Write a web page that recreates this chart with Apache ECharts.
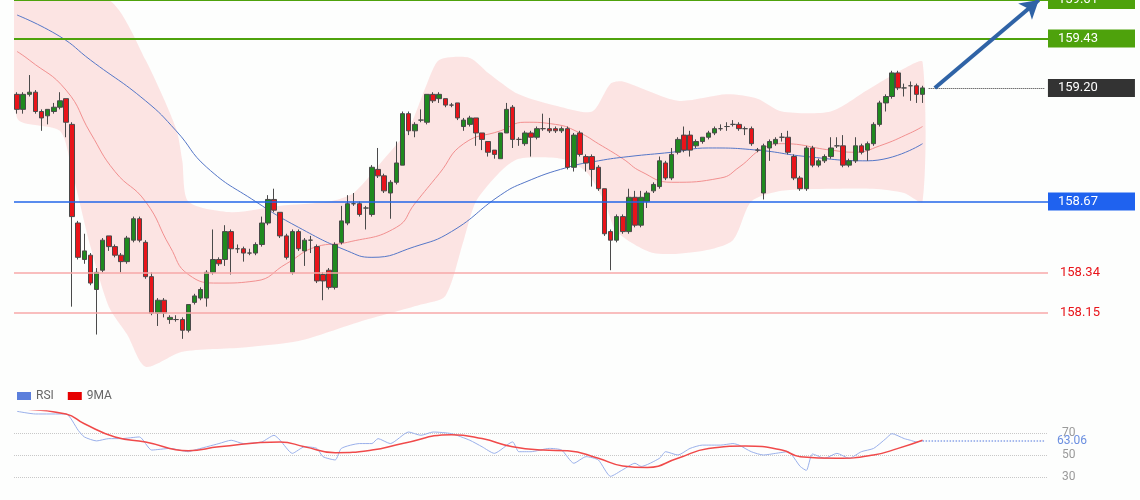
<!DOCTYPE html>
<html><head><meta charset="utf-8">
<script src="https://cdn.jsdelivr.net/npm/echarts@6/dist/echarts.min.js"></script>
<style>html,body{margin:0;padding:0;background:#fdfefd}#c{width:1140px;height:500px}</style>
</head><body><div id="c"></div>
<script>
// [open, close, low, high]
const candles = [
[159.17,159.10,159.08,159.18],[159.10,159.17,159.08,159.18],[159.17,159.18,159.16,159.26],[159.18,159.09,159.08,159.19],[159.09,159.06,159.00,159.10],
[159.07,159.10,159.03,159.10],[159.09,159.11,159.08,159.13],[159.11,159.14,159.10,159.18],[159.15,159.04,158.97,159.15],[159.03,158.60,158.18,159.04],
[158.57,158.41,158.40,158.58],[158.40,158.44,158.38,158.52],[158.42,158.29,158.28,158.43],[158.26,158.34,158.05,158.36],[158.35,158.49,158.34,158.50],
[158.51,158.46,158.44,158.51],[158.46,158.42,158.41,158.47],[158.42,158.39,158.34,158.43],[158.39,158.50,158.38,158.51],[158.49,158.59,158.48,158.60],
[158.59,158.49,158.48,158.60],[158.48,158.32,158.31,158.49],[158.32,158.15,158.14,158.34],[158.15,158.21,158.09,158.22],[158.21,158.15,158.13,158.22],
[158.12,158.13,158.10,158.14],[158.12,158.12,158.11,158.14],[158.12,158.07,158.03,158.13],[158.07,158.19,158.06,158.19],[158.20,158.23,158.19,158.24],
[158.22,158.26,158.21,158.27],[158.22,158.34,158.18,158.35],[158.34,158.40,158.33,158.54],[158.40,158.38,158.37,158.41],[158.40,158.53,158.37,158.56],
[158.53,158.45,158.33,158.54],[158.45,158.45,158.43,158.47],[158.45,158.43,158.39,158.46],[158.43,158.43,158.42,158.45],[158.43,158.47,158.42,158.48],
[158.47,158.57,158.46,158.60],[158.57,158.68,158.56,158.70],[158.68,158.63,158.62,158.73],[158.62,158.51,158.50,158.62],[158.51,158.41,158.40,158.52],
[158.34,158.53,158.33,158.54],[158.53,158.45,158.44,158.54],[158.44,158.49,158.37,158.50],[158.49,158.49,158.43,158.51],[158.46,158.30,158.29,158.47],
[158.33,158.30,158.21,158.34],[158.35,158.27,158.26,158.36],[158.27,158.47,158.26,158.48],[158.48,158.58,158.47,158.65],[158.57,158.66,158.56,158.70],
[158.66,158.66,158.65,158.71],[158.66,158.61,158.60,158.67],[158.64,158.64,158.54,158.65],[158.61,158.83,158.60,158.84],[158.82,158.79,158.78,158.92],
[158.79,158.72,158.71,158.80],[158.71,158.76,158.59,158.77],[158.76,158.85,158.75,158.95],[158.84,159.08,158.84,159.09],[159.08,159.00,158.98,159.09],
[159.00,159.03,158.97,159.04],[159.05,159.05,159.04,159.10],[159.04,159.17,159.03,159.17],[159.17,159.14,159.13,159.18],[159.15,159.17,159.13,159.18],
[159.15,159.12,159.11,159.15],[159.12,159.12,159.11,159.13],[159.13,159.06,159.05,159.13],[159.02,159.05,159.00,159.06],[159.03,159.06,159.02,159.07],
[159.06,158.99,158.93,159.06],[158.99,158.96,158.91,158.99],[158.95,158.90,158.88,158.95],[158.91,158.89,158.87,158.91],[158.87,158.99,158.87,158.99],
[158.99,159.10,158.99,159.13],[159.11,158.96,158.92,159.12],[158.96,158.96,158.93,158.97],[158.94,158.99,158.93,159.00],[158.99,158.97,158.88,159.00],
[158.97,159.01,158.96,159.02],[159.01,159.01,159.00,159.08],[159.01,159.00,158.99,159.06],[159.01,159.00,158.99,159.02],[159.00,159.01,158.99,159.02],
[159.01,158.83,158.82,159.02],[158.83,158.98,158.81,158.99],[158.99,158.89,158.88,159.00],[158.88,158.85,158.81,158.89],[158.88,158.82,158.74,158.89],
[158.83,158.73,158.72,158.84],[158.73,158.52,158.51,158.73],[158.53,158.49,158.35,158.54],[158.49,158.60,158.48,158.61],[158.60,158.53,158.52,158.61],
[158.53,158.69,158.52,158.73],[158.69,158.56,158.55,158.72],[158.56,158.69,158.55,158.72],[158.67,158.71,158.64,158.72],[158.72,158.75,158.71,158.76],
[158.74,158.86,158.73,158.88],[158.85,158.78,158.77,158.86],[158.78,158.89,158.77,158.92],[158.90,158.96,158.89,158.97],[158.98,158.91,158.90,159.02],
[158.98,158.91,158.88,159.00],[158.93,158.95,158.92,158.96],[158.95,158.97,158.94,158.97],[158.97,158.99,158.96,159.00],[158.99,159.01,158.98,159.02],
[159.01,159.01,159.00,159.03],[159.02,159.02,159.00,159.04],[159.03,159.03,159.02,159.05],[159.03,159.01,159.00,159.04],[159.01,159.01,158.98,159.02],
[159.01,158.94,158.93,159.02],[158.91,158.91,158.90,158.92],[158.71,158.93,158.68,158.94],[158.92,158.95,158.86,158.96],[158.94,158.96,158.93,158.97],
[158.97,158.97,158.95,158.99],[158.97,158.90,158.89,159.00],[158.88,158.78,158.77,158.89],[158.78,158.73,158.72,158.79],[158.73,158.92,158.72,158.93],
[158.92,158.84,158.83,158.93],[158.84,158.86,158.83,158.87],[158.86,158.88,158.85,158.89],[158.88,158.92,158.87,158.97],[158.93,158.93,158.92,158.97],
[158.93,158.84,158.83,158.98],[158.84,158.86,158.83,158.87],[158.86,158.93,158.85,158.97],[158.93,158.90,158.89,158.94],[158.91,158.94,158.86,158.95],
[158.94,159.03,158.93,159.04],[159.03,159.13,159.02,159.14],[159.13,159.16,159.09,159.17],[159.16,159.27,159.15,159.28],[159.27,159.20,159.19,159.28],
[159.20,159.20,159.16,159.22],[159.21,159.21,159.14,159.23],[159.21,159.17,159.13,159.22],[159.17,159.20,159.13,159.21]
];
const slots = 169;
const categories = Array.from({length: slots}, (_, i) => String(i + 1));
const ma20 = [[0,159.37],[2,159.33],[8,159.19],[12,158.99],[16,158.81],[21,158.67],[25,158.46],[28,158.33],[33,158.29],[39,158.30],[44,158.38],[49,158.46],[54,158.48],[62,158.55],[65,158.66],[69,158.80],[73,158.94],[79,159.00],[83,159.04],[88,159.03],[92,158.99],[95,158.94],[99,158.87],[102,158.81],[107,158.76],[115,158.78],[118,158.83],[122,158.92],[125,158.94],[133,158.91],[137,158.90],[141,158.93],[146,158.99],[148,159.02]];
const ma50 = [[0,159.54],[7,159.44],[12,159.33],[21,159.14],[26,159.00],[31,158.83],[39,158.67],[46,158.55],[54,158.44],[58,158.41],[65,158.46],[71,158.53],[79,158.70],[83,158.76],[90,158.83],[95,158.86],[100,158.88],[107,158.90],[113,158.92],[121,158.91],[129,158.88],[139,158.86],[148,158.94]];
const bandUpper = [[0,159.68],[15,159.61],[21,159.33],[26,159.01],[27,158.86],[28,158.67],[35,158.62],[43,158.65],[51,158.67],[55,158.71],[60,158.87],[64,159.01],[67,159.22],[69,159.33],[74,159.34],[77,159.27],[82,159.17],[89,159.11],[94,159.09],[97,159.22],[99,159.23],[108,159.14],[116,159.17],[121,159.15],[125,159.09],[133,159.09],[139,159.19],[145,159.29],[148,159.32]];
const bandLower = [[0,159.06],[7,159.00],[9,158.81],[12,158.46],[15,158.18],[18,158.05],[21,157.90],[27,157.97],[37,157.99],[46,158.02],[56,158.11],[66,158.19],[70,158.23],[73,158.49],[75,158.67],[79,158.81],[82,158.87],[89,158.87],[93,158.81],[96,158.67],[98,158.53],[104,158.43],[112,158.44],[117,158.49],[120,158.67],[125,158.72],[133,158.73],[140,158.73],[145,158.71],[148,158.67]];
const rsi = [[0,89.7],[3,87.3],[8,87.3],[10,72.4],[11,66.4],[13,62.8],[15,64.9],[17,64.9],[20,66.4],[22,54.5],[25,56.0],[28,53.0],[29,54.5],[33,60.4],[35,63.4],[37,60.4],[40,61.9],[42,67.9],[43,63.4],[45,51.5],[47,57.5],[49,56.0],[50,48.5],[52,45.5],[53,56.0],[56,60.4],[58,60.4],[59,64.9],[61,60.4],[64,70.9],[66,67.9],[68,70.9],[71,69.4],[74,63.4],[76,57.5],[78,51.5],[81,61.9],[82,53.0],[84,53.0],[87,56.0],[89,54.5],[91,42.5],[93,48.5],[95,45.5],[97,30.6],[99,36.6],[101,42.5],[102,39.6],[105,47.0],[106,53.0],[108,50.0],[110,56.0],[112,59.0],[115,59.0],[117,60.4],[118,59.0],[120,53.0],[122,50.0],[124,51.5],[126,53.0],[128,39.6],[129,36.0],[130,50.9],[132,47.0],[134,51.5],[136,47.0],[138,53.0],[140,56.0],[142,64.9],[143,69.4],[145,64.9],[146,63.4],[147,61.9],[148,63.06]];
const rsiMA = [[0,91.8],[8,87.3],[11,78.4],[16,66.4],[21,61.9],[28,53.9],[33,57.5],[43,61.9],[47,57.5],[52,52.1],[58,54.5],[63,60.4],[71,68.5],[76,64.9],[81,57.5],[86,54.5],[90,53.9],[95,47.0],[99,40.1],[103,38.7],[108,47.0],[113,56.0],[119,58.1],[125,54.5],[128,48.5],[134,47.0],[140,50.0],[144,56.0],[148,63.4]];
const levels = {res2: 159.61, res1: 159.43, last: 159.20, pivot: 158.67, sup1: 158.34, sup2: 158.15};
const rsiLast = 63.06;
const rsiTicks = [30, 50, 70];

const chart = echarts.init(document.getElementById('c'));
function boxLabel(bg, txt, dist) {
  return {show: true, position: 'end', distance: dist, formatter: txt, color: '#fff', backgroundColor: bg,
    fontFamily: 'Roboto, sans-serif', fontSize: 13, padding: [3, 6, 2, 10], width: 71, align: 'left'};
}
function plainLabel(txt) {
  return {show: true, position: 'end', distance: 12, formatter: txt, color: '#e8141a', fontFamily: 'Roboto, sans-serif', fontSize: 13};
}
chart.setOption({
  backgroundColor: '#fdfefd',
  animation: false,
  legend: {data: [{name: 'RSI', itemStyle: {color: '#5b7fdc'}}, {name: '9MA', itemStyle: {color: '#e60000'}}],
    left: 12, top: 385, icon: 'rect', itemWidth: 14, itemHeight: 8, itemGap: 14,
    textStyle: {color: '#666', fontSize: 12, fontFamily: 'Roboto, sans-serif'}},
  grid: [
    {left: 14, right: 92, top: 0, height: 371},
    {left: 14, right: 92, top: 411, height: 88}
  ],
  xAxis: [
    {type: 'category', data: categories, gridIndex: 0, show: false, boundaryGap: true},
    {type: 'category', data: categories, gridIndex: 1, show: false, boundaryGap: true}
  ],
  yAxis: [
    {type: 'value', gridIndex: 0, min: 157.88, max: levels.res2, show: false, splitLine: {show: false}},
    {type: 'value', gridIndex: 1, min: 10, max: 90, interval: 20, position: 'right',
      axisLine: {show: false}, axisTick: {show: false},
      axisLabel: {margin: 14, color: '#9a9a9a', fontSize: 12, fontFamily: 'Roboto, sans-serif',
        formatter: v => rsiTicks.includes(v) ? String(v) : ''},
      splitLine: {show: true, lineStyle: {type: 'dotted', color: ['transparent', '#c8c8c8', '#c8c8c8', '#c8c8c8', 'transparent']}}}
  ],
  series: [
    {type: 'custom', xAxisIndex: 0, yAxisIndex: 0, z: 1, silent: true, clip: true,
      data: [[0, 159]], encode: {x: 0, y: 1},
      renderItem: (params, api) => {
        const pts = bandUpper.map(p => api.coord(p)).concat(bandLower.slice().reverse().map(p => api.coord(p)));
        return {type: 'polygon', shape: {points: pts, smooth: 0.25}, style: {fill: 'rgba(252,205,205,0.55)', stroke: 'none'}};
      }},
    {type: 'line', name: 'ma20', data: ma20, smooth: true, symbol: 'none', z: 2,
      lineStyle: {color: '#f29090', width: 1}},
    {type: 'line', name: 'ma50', data: ma50, smooth: true, symbol: 'none', z: 2,
      lineStyle: {color: '#5577c8', width: 1}},
    {type: 'candlestick', name: 'price', data: candles, barWidth: 5, z: 3,
      itemStyle: {color: '#1f8a1f', color0: '#e8141a', borderColor: '#4a4a4a', borderColor0: '#4a4a4a', borderWidth: 1},
      markLine: {symbol: 'none', silent: true, z: 4,
        data: [
          {yAxis: levels.res2, lineStyle: {color: '#4ea20c', width: 2, type: 'solid'}, label: boxLabel('#4ea20c', String(levels.res2), 0)},
          {yAxis: levels.res1, lineStyle: {color: '#4ea20c', width: 2, type: 'solid'}, label: boxLabel('#4ea20c', String(levels.res1), 0)},
          {yAxis: levels.pivot, lineStyle: {color: '#2266e8', width: 1.5, type: 'solid'}, label: boxLabel('#1f62ef', String(levels.pivot), 0)},
          {yAxis: levels.sup1, lineStyle: {color: '#f7a8a8', width: 1.5, type: 'solid'}, label: plainLabel(String(levels.sup1))},
          {yAxis: levels.sup2, lineStyle: {color: '#f7a8a8', width: 1.5, type: 'solid'}, label: plainLabel(String(levels.sup2))},
          [{coord: [149, levels.last], lineStyle: {color: '#333', width: 1, type: 'dotted'}, label: boxLabel('#333333', levels.last.toFixed(2), 3)},
           {coord: [168, levels.last]}],
          [{coord: [150, levels.last], lineStyle: {color: '#2f63a6', width: 4, type: 'solid'}, label: {show: false}, symbol: 'none'},
           {coord: [167, levels.res2], symbol: 'arrow', symbolSize: [16, 18]}]
        ]}},
    {type: 'line', name: 'RSI', data: rsi, xAxisIndex: 1, yAxisIndex: 1, smooth: 0.2, symbol: 'none', z: 3,
      lineStyle: {color: '#9ab0ea', width: 1}, itemStyle: {color: '#5b7fdc'},
      markLine: {symbol: 'none', silent: true,
        data: [[{coord: [148, rsiLast], lineStyle: {color: '#8aa4e8', type: 'dotted', width: 1.5},
          label: {show: true, position: 'end', distance: 12, formatter: rsiLast.toFixed(2), color: '#6b8fe0', fontSize: 12, fontFamily: 'Roboto, sans-serif'}},
          {coord: [168, rsiLast]}]]}},
    {type: 'line', name: '9MA', data: rsiMA, xAxisIndex: 1, yAxisIndex: 1, smooth: true, symbol: 'none', z: 4,
      lineStyle: {color: '#f04a4a', width: 1.5}, itemStyle: {color: '#e60000'}}
  ]
});
</script></body></html>
